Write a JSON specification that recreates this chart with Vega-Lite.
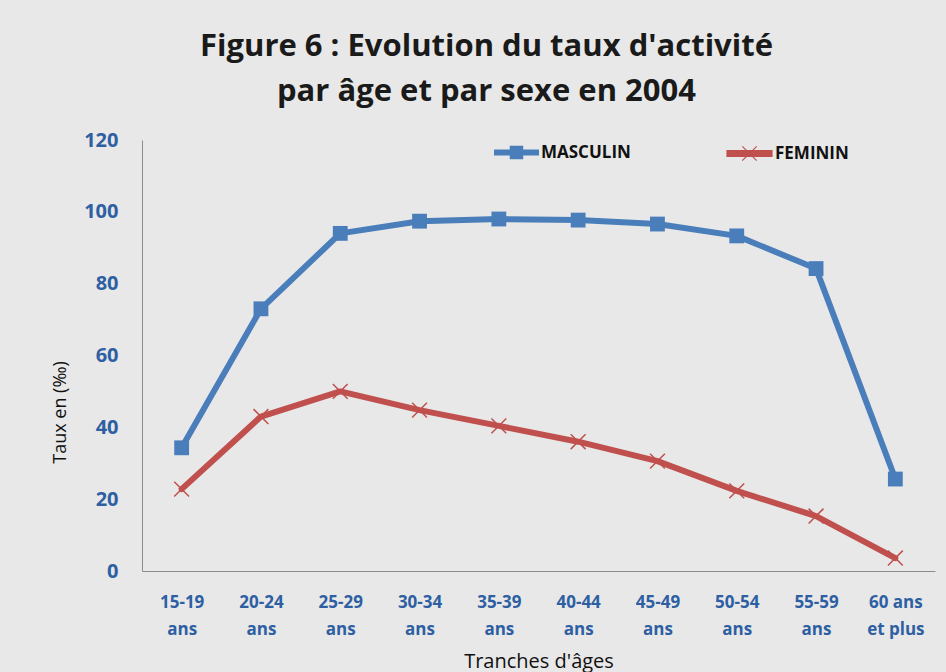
{
  "$schema": "https://vega.github.io/schema/vega-lite/v6.json",
  "width": 793,
  "height": 431,
  "autosize": {"type": "none"},
  "padding": {"left": 142, "top": 140, "right": 11, "bottom": 101},
  "background": "#e8e8e8",
  "title": {
    "text": ["Figure 6 : Evolution du taux d'activité", "par âge et par sexe en 2004"],
    "font": "Open Sans",
    "fontSize": 31,
    "fontWeight": "bold",
    "color": "#1a1a1a",
    "lineHeight": 45,
    "anchor": "middle",
    "dx": -52,
    "offset": 22
  },
  "config": {
    "view": {"stroke": null},
    "font": "Open Sans"
  },
  "data": {
    "values": [
      {"age": "15-19 ans", "serie": "MASCULIN", "taux": 34.3},
      {"age": "20-24 ans", "serie": "MASCULIN", "taux": 73},
      {"age": "25-29 ans", "serie": "MASCULIN", "taux": 94},
      {"age": "30-34 ans", "serie": "MASCULIN", "taux": 97.4},
      {"age": "35-39 ans", "serie": "MASCULIN", "taux": 98},
      {"age": "40-44 ans", "serie": "MASCULIN", "taux": 97.7},
      {"age": "45-49 ans", "serie": "MASCULIN", "taux": 96.6},
      {"age": "50-54 ans", "serie": "MASCULIN", "taux": 93.3},
      {"age": "55-59 ans", "serie": "MASCULIN", "taux": 84.2},
      {"age": "60 ans et plus", "serie": "MASCULIN", "taux": 25.6},
      {"age": "15-19 ans", "serie": "FEMININ", "taux": 22.8},
      {"age": "20-24 ans", "serie": "FEMININ", "taux": 43},
      {"age": "25-29 ans", "serie": "FEMININ", "taux": 50},
      {"age": "30-34 ans", "serie": "FEMININ", "taux": 44.8},
      {"age": "35-39 ans", "serie": "FEMININ", "taux": 40.4},
      {"age": "40-44 ans", "serie": "FEMININ", "taux": 36},
      {"age": "45-49 ans", "serie": "FEMININ", "taux": 30.6},
      {"age": "50-54 ans", "serie": "FEMININ", "taux": 22.3},
      {"age": "55-59 ans", "serie": "FEMININ", "taux": 15.3},
      {"age": "60 ans et plus", "serie": "FEMININ", "taux": 3.6}
    ]
  },
  "encoding": {
    "x": {
      "field": "age",
      "type": "nominal",
      "sort": null,
      "scale": {"type": "point", "padding": 0.5},
      "axis": {
        "title": "Tranches d'âges",
        "titleFont": "Open Sans",
        "titleFontSize": 20,
        "titleFontWeight": "normal",
        "titleColor": "#111111",
        "titlePadding": 14,
        "labelAngle": 0,
        "labelFont": "Open Sans",
        "labelFontSize": 17,
        "labelFontWeight": "bold",
        "labelColor": "#2e5fa3",
        "labelLineHeight": 27,
        "labelPadding": 23,
        "labelExpr": "datum.value == '60 ans et plus' ? ['60 ans', 'et plus'] : split(datum.value, ' ')",
        "ticks": false,
        "domainColor": "#8c8c8c",
        "domainWidth": 1,
        "grid": false
      }
    },
    "y": {
      "field": "taux",
      "type": "quantitative",
      "scale": {"domain": [0, 120]},
      "axis": {
        "title": "Taux en (‰)",
        "titleFont": "Open Sans",
        "titleFontSize": 18,
        "titleFontWeight": "normal",
        "titleColor": "#111111",
        "titlePadding": 14,
        "titleY": 272,
        "values": [0, 20, 40, 60, 80, 100, 120],
        "labelFont": "Open Sans",
        "labelFontSize": 20,
        "labelFontWeight": "bold",
        "labelColor": "#2e5fa3",
        "labelPadding": 24,
        "ticks": false,
        "domainColor": "#8c8c8c",
        "domainWidth": 1,
        "grid": false
      }
    }
  },
  "layer": [
    {
      "transform": [{"filter": "datum.serie == 'MASCULIN'"}],
      "encoding": {
        "color": {
          "field": "serie",
          "type": "nominal",
          "scale": {"domain": ["MASCULIN"], "range": ["#4a7ebb"]},
          "legend": {
            "title": null,
            "orient": "none",
            "legendX": 352,
            "legendY": -10,
            "labelFont": "Open Sans",
            "labelFontSize": 17,
            "labelFontWeight": "bold",
            "labelColor": "#111111",
            "labelOffset": 2,
            "symbolType": "M-1,-0.13H1V0.13H-1Z M-0.3,-0.3H0.3V0.3H-0.3Z",
            "symbolSize": 2025,
            "symbolFillColor": "#4a7ebb",
            "symbolStrokeColor": "#4a7ebb",
            "symbolStrokeWidth": 0
          }
        }
      },
      "layer": [
        {"mark": {"type": "line", "strokeWidth": 6, "strokeCap": "round", "strokeJoin": "round"}},
        {"mark": {"type": "point", "filled": true, "opacity": 1, "shape": "square", "size": 220}}
      ]
    },
    {
      "transform": [{"filter": "datum.serie == 'FEMININ'"}],
      "encoding": {
        "color": {
          "field": "serie",
          "type": "nominal",
          "scale": {"domain": ["FEMININ"], "range": ["#c0504d"]},
          "legend": {
            "title": null,
            "orient": "none",
            "legendX": 584,
            "legendY": -10,
            "labelFont": "Open Sans",
            "labelFontSize": 17,
            "labelFontWeight": "bold",
            "labelColor": "#111111",
            "labelOffset": 2,
            "symbolType": "M-1,-0.13H1V0.13H-1Z M-0.32,-0.32L0.32,0.32M-0.32,0.32L0.32,-0.32",
            "symbolSize": 2025,
            "symbolFillColor": "#c0504d",
            "symbolStrokeColor": "#c0504d",
            "symbolStrokeWidth": 1.2
          }
        }
      },
      "layer": [
        {"mark": {"type": "line", "strokeWidth": 6, "strokeCap": "round", "strokeJoin": "round"}},
        {"mark": {"type": "point", "filled": true, "opacity": 1, "stroke": "#c0504d", "shape": "M-1,-1L1,1M-1,1L1,-1", "size": 220, "strokeWidth": 1.5}}
      ]
    }
  ],
  "resolve": {"scale": {"color": "independent"}, "legend": {"color": "independent"}}
}
